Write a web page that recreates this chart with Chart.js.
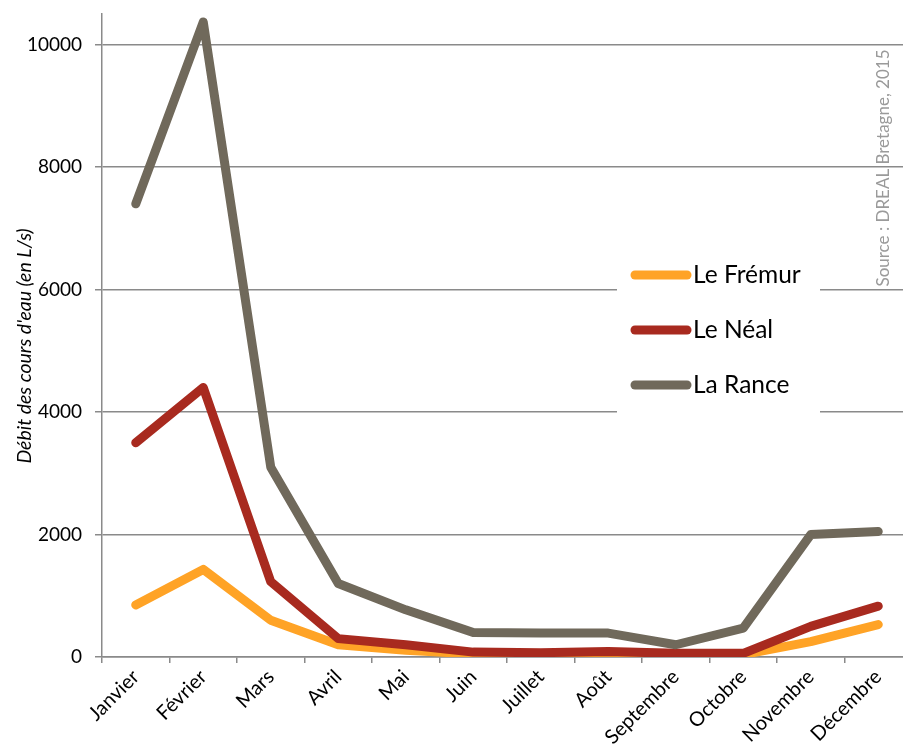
<!DOCTYPE html>
<html>
<head>
<meta charset="utf-8">
<script src="https://cdn.jsdelivr.net/npm/chart.js@4.4.1/dist/chart.umd.min.js"></script>
<style>
  html, body { margin: 0; padding: 0; overflow: hidden; background: #fff; width: 903px; height: 750px; }
  canvas { display: block; }
</style>
</head>
<body>
<canvas id="chart" width="912" height="750"></canvas>
<script>
// Monthly river flows (L/s)
const months = ['Janvier', 'Février', 'Mars', 'Avril', 'Mai', 'Juin', 'Juillet', 'Août', 'Septembre', 'Octobre', 'Novembre', 'Décembre'];
const fremur = [850, 1430, 600, 200, 110, 50, 40, 60, 40, 40, 250, 530];
const neal   = [3500, 4400, 1230, 300, 200, 80, 70, 90, 60, 60, 500, 830];
const rance  = [7400, 10370, 3100, 1200, 770, 400, 390, 390, 200, 470, 2000, 2050];
const yTicks = [0, 2000, 4000, 6000, 8000, 10000];
const seriesNames = ['Le Frémur', 'Le Néal', 'La Rance'];
const seriesColors = ['#FFA326', '#A82A1F', '#70695B'];
const yTitle = "Débit des cours d'eau (en L/s)";
const sourceText = 'Source : DREAL Bretagne, 2015';

const FONT = 'Lato';
const GRID = '#8a8a8a';

function lineDataset(i, data, order) {
  return {
    label: seriesNames[i],
    data: data,
    borderColor: seriesColors[i],
    backgroundColor: seriesColors[i],
    borderWidth: 9,
    borderCapStyle: 'round',
    borderJoinStyle: 'round',
    pointRadius: 0,
    tension: 0,
    fill: false,
    order: order
  };
}

// Legend box drawn inside the plot, on a white panel
const boxLegend = {
  id: 'boxLegend',
  afterDatasetsDraw(chart) {
    const ctx = chart.ctx;
    ctx.save();
    ctx.fillStyle = '#ffffff';
    ctx.fillRect(617, 250, 203, 165);
    chart.data.datasets.forEach((ds, i) => {
      const y = 275 + i * 55;
      ctx.strokeStyle = ds.borderColor;
      ctx.lineWidth = 9;
      ctx.lineCap = 'round';
      ctx.beginPath();
      ctx.moveTo(635, y);
      ctx.lineTo(687, y);
      ctx.stroke();
      ctx.fillStyle = '#000';
      ctx.font = '24.5px ' + FONT;
      ctx.textBaseline = 'middle';
      ctx.textAlign = 'left';
      ctx.fillText(ds.label, 693, y);
    });
    ctx.restore();
  }
};

// Rotated axis title and vertical source note
const sideTexts = {
  id: 'sideTexts',
  afterDraw(chart) {
    const ctx = chart.ctx;
    ctx.save();
    ctx.translate(25, 346);
    ctx.rotate(-Math.PI / 2);
    ctx.fillStyle = '#000';
    ctx.font = 'italic 19.5px ' + FONT;
    ctx.textAlign = 'center';
    ctx.textBaseline = 'middle';
    ctx.fillText(yTitle, 0, 0);
    ctx.restore();

    ctx.save();
    ctx.translate(884, 168);
    ctx.rotate(-Math.PI / 2);
    ctx.fillStyle = '#9a9a9a';
    ctx.font = '17px ' + FONT;
    ctx.textAlign = 'center';
    ctx.textBaseline = 'middle';
    ctx.fillText(sourceText, 0, 0);
    ctx.restore();
  }
};

new Chart(document.getElementById('chart'), {
  type: 'line',
  data: {
    labels: months,
    datasets: [
      lineDataset(0, fremur, 3),
      lineDataset(1, neal, 2),
      lineDataset(2, rance, 1)
    ]
  },
  options: {
    responsive: false,
    animation: false,
    layout: { padding: { left: 0, right: 0, top: 14, bottom: 0 } },
    plugins: {
      legend: { display: false },
      tooltip: { enabled: false }
    },
    scales: {
      x: {
        type: 'category',
        offset: true,
        grid: {
          offset: true,
          drawOnChartArea: false,
          drawTicks: true,
          tickLength: 6,
          color: GRID,
          lineWidth: 1.5
        },
        border: { display: true, color: GRID, width: 1.5 },
        ticks: {
          color: '#000',
          font: { family: FONT, size: 20 },
          minRotation: 45,
          maxRotation: 45,
          padding: 2,
          autoSkip: false
        },
        afterFit(scale) {
          scale.height = 93;
          scale.paddingLeft = 0;
          scale.paddingRight = 0;
        }
      },
      y: {
        min: 0,
        max: 10500,
        afterBuildTicks(scale) { scale.ticks = yTicks.map(v => ({ value: v })); },
        grid: {
          color: GRID,
          lineWidth: 1.5,
          tickLength: 7
        },
        border: { display: true, color: GRID, width: 1.5 },
        ticks: {
          color: '#000',
          font: { family: FONT, size: 19 },
          padding: 13,
          callback: (v) => String(v)
        },
        afterFit(scale) {
          scale.width = 102;
          scale.paddingTop = 0;
          scale.paddingBottom = 0;
        }
      }
    }
  },
  plugins: [boxLegend, sideTexts]
});
</script>
</body>
</html>
